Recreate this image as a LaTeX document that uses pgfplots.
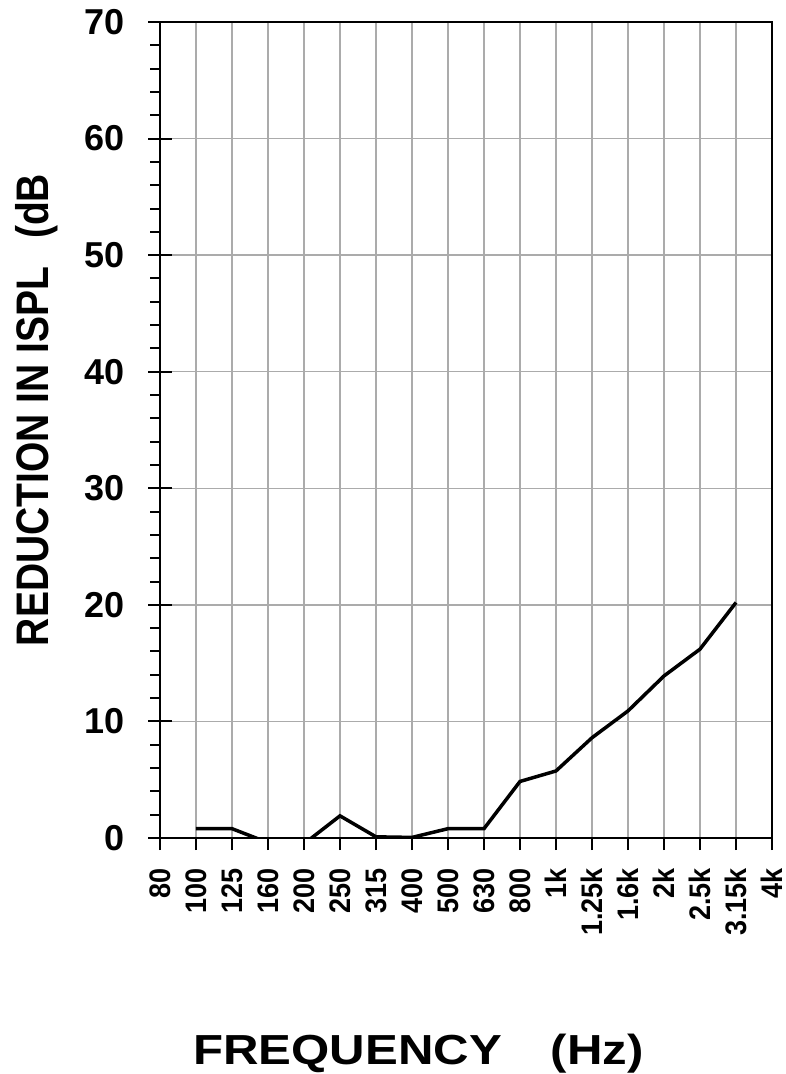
\documentclass[border=0pt]{standalone}
\usepackage{fontspec}
\setmainfont{Liberation Sans}
\usepackage{pgfplots}
\pgfplotsset{compat=1.18}
\newcommand{\s}[1]{\scalebox{1}[1.1]{#1}}
\begin{document}
\begin{tikzpicture}
\useasboundingbox (0,0) rectangle (785pt,1074pt);
\begin{axis}[
  at={(160pt,236pt)}, anchor=south west,
  scale only axis, width=612pt, height=816pt,
  xmin=0, xmax=17, ymin=0, ymax=70,
  xtick={0,...,17},
  xticklabels={\s{80},\s{100},\s{125},\s{160},\s{200},\s{250},\s{315},\s{400},\s{500},\s{630},\s{800},\s{1k},\s{1.25k},\s{1.6k},\s{2k},\s{2.5k},\s{3.15k},\s{4k}},
  ytick={0,10,...,70},
  minor y tick num=4,
  xtick pos=bottom, ytick pos=left,
  tick align=outside,
  major tick length=12pt, minor tick length=10pt,
  grid=major,
  major grid style={draw=black!33, line width=1.4pt},
  axis line style={line width=2pt},
  every tick/.style={black, line width=2pt},
  /pgf/number format/assume math mode=true,
  xticklabel style={font=\fontsize{27}{27}\selectfont\bfseries, rotate=90, anchor=east, inner sep=0pt, xshift=-18pt},
  yticklabel style={font=\fontsize{36}{36}\selectfont\bfseries, inner sep=0pt, xshift=-23pt},
  extra y ticks={0,10,...,70},
  extra y tick labels={},
  extra y tick style={tick align=inside, grid=none},
  xlabel={\scalebox{1.17}[1]{\fontsize{42}{42}\selectfont\bfseries FREQUENCY\hspace{1em}(Hz)}},
  xlabel style={at={(axis description cs:0.4224,-0.278)}, anchor=base},
  ylabel={\scalebox{1}[1.17]{\fontsize{39}{39}\selectfont\bfseries REDUCTION IN ISPL\hspace{0.72em}(dB}},
  ylabel style={at={(axis description cs:-0.183,0.5245)}, anchor=base},
]
\addplot[black, line width=3.5pt] coordinates {
(1,0.8)(2,0.8)(3,-0.4)(4,-0.5)(5,1.9)(6,0.1)(7,0.05)(8,0.8)(9,0.8)
(10,4.85)(11,5.75)(12,8.6)(13,10.9)(14,13.9)(15,16.2)(16,20.2)};
\end{axis}
\end{tikzpicture}
\end{document}
